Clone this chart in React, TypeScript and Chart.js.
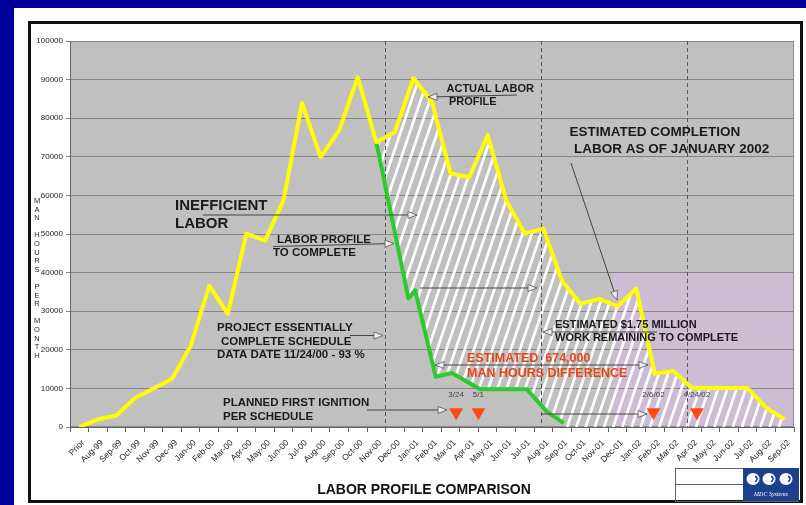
import React, { useEffect, useRef } from "react";
import { Chart, registerables } from "chart.js";
Chart.register(...registerables);

// ---------- DATA ----------
const months = [
  "Prior", "Aug-99", "Sep-99", "Oct-99", "Nov-99", "Dec-99", "Jan-00", "Feb-00", "Mar-00", "Apr-00",
  "May-00", "Jun-00", "Jul-00", "Aug-00", "Sep-00", "Oct-00", "Nov-00", "Dec-00", "Jan-01", "Feb-01",
  "Mar-01", "Apr-01", "May-01", "Jun-01", "Jul-01", "Aug-01", "Sep-01", "Oct-01", "Nov-01", "Dec-01",
  "Jan-02", "Feb-02", "Mar-02", "Apr-02", "May-02", "Jun-02", "Jul-02", "Aug-02", "Sep-02",
];
const actualLabor = [
  0, 2000, 3000, 7500, 10000, 12500, 21000, 36600, 29300, 50100,
  48300, 58700, 83900, 69900, 76900, 90600, 73800, 76400, 90400, 84200,
  65700, 64700, 75600, 58700, 50100, 51400, 37900, 31900, 33200, 31300,
  35900, 13800, 14500, 10100, 10100, 10100, 10100, 5000, 2000,
];
// planned labor profile to complete (x = month index, fractional where it falls between months)
const planX = [16, 17.73, 18.09, 19.2, 20.07, 21.6, 24.1, 25.2, 26.1];
const planY = [73800, 33300, 35400, 13000, 14000, 9800, 9800, 3900, 1000];
const hatchStart = 16; // Nov-00, where actual and plan diverge
// milestones
const milestoneX = [20.3, 21.5, 30.93, 33.27];
const milestoneY = [3800, 3800, 3800, 3800];
const milestoneLabels = ["3/24", "5/1", "2/6/02", "4/24/02"];
// dashed date markers (month index)
const markerX = [16.48, 24.88, 32.73];
// estimated completion zone
const zoneStartX = 28.74;
const zoneTop = 40000;
const yTicksMax = 100000;
const yStep = 10000;

// ---------- helpers ----------
const SANS = '"Liberation Sans", Arial, Helvetica, sans-serif';

function arrowHead(ctx: CanvasRenderingContext2D, x1: number, y1: number, x2: number, y2: number) {
  const ang = Math.atan2(y2 - y1, x2 - x1);
  const L = 9, W = 3.5;
  const bx = x2 - L * Math.cos(ang), by = y2 - L * Math.sin(ang);
  const nx = -Math.sin(ang), ny = Math.cos(ang);
  ctx.beginPath();
  ctx.moveTo(x2, y2);
  ctx.lineTo(bx + nx * W, by + ny * W);
  ctx.lineTo(bx - nx * W, by - ny * W);
  ctx.closePath();
  ctx.fillStyle = "#eeeeee";
  ctx.fill();
  ctx.strokeStyle = "#555";
  ctx.lineWidth = 0.8;
  ctx.stroke();
}
function arrow(ctx: CanvasRenderingContext2D, x1: number, y1: number, x2: number, y2: number, both = false) {
  ctx.beginPath();
  ctx.moveTo(x1, y1);
  ctx.lineTo(x2, y2);
  ctx.strokeStyle = "#444";
  ctx.lineWidth = 1;
  ctx.stroke();
  arrowHead(ctx, x1, y1, x2, y2);
  if (both) arrowHead(ctx, x2, y2, x1, y1);
}
function text(ctx: CanvasRenderingContext2D, s: string, x: number, y: number, font: string, color = "#1a1a1a", align: CanvasTextAlign = "left") {
  ctx.font = font;
  ctx.fillStyle = color;
  ctx.textAlign = align;
  ctx.textBaseline = "middle";
  ctx.fillText(s, x, y);
}

const decorPlugin = {
  id: "decor",
  beforeDraw(chart: any) {
    const { ctx, chartArea: a, scales } = chart;
    ctx.save();
    ctx.fillStyle = "#c0c0c0";
    ctx.fillRect(a.left, a.top, a.right - a.left, a.bottom - a.top);
    const px = scales.xl.getPixelForValue(zoneStartX);
    const py = scales.y.getPixelForValue(zoneTop);
    ctx.fillStyle = "#cdbcd4";
    ctx.fillRect(px, py, a.right - px, a.bottom - py);
    ctx.strokeStyle = "#8a8a8a";
    ctx.lineWidth = 1;
    ctx.strokeRect(a.left + 0.5, a.top + 0.5, a.right - a.left - 1, a.bottom - a.top - 1);
    ctx.restore();
  },
  beforeDatasetsDraw(chart: any) {
    const { ctx, chartArea: a, scales } = chart;
    const xl = scales.xl, y = scales.y;
    ctx.save();
    // hatched difference region
    ctx.beginPath();
    for (let i = hatchStart; i < actualLabor.length; i++) {
      const X = xl.getPixelForValue(i), Y = y.getPixelForValue(actualLabor[i]);
      if (i === hatchStart) ctx.moveTo(X, Y); else ctx.lineTo(X, Y);
    }
    ctx.lineTo(xl.getPixelForValue(actualLabor.length - 1), y.getPixelForValue(0));
    ctx.lineTo(xl.getPixelForValue(planX[planX.length - 1]), y.getPixelForValue(0));
    for (let i = planX.length - 1; i >= 0; i--) {
      ctx.lineTo(xl.getPixelForValue(planX[i]), y.getPixelForValue(planY[i]));
    }
    ctx.closePath();
    ctx.clip();
    ctx.strokeStyle = "#ffffff";
    ctx.lineWidth = 2.7;
    const H = a.bottom - a.top;
    const slope = 0.34;
    for (let x = a.left - H; x < a.right + 20; x += 9.2) {
      ctx.beginPath();
      ctx.moveTo(x, a.bottom);
      ctx.lineTo(x + H * slope, a.top);
      ctx.stroke();
    }
    ctx.restore();
    // dashed markers
    ctx.save();
    ctx.strokeStyle = "#555";
    ctx.lineWidth = 1;
    ctx.setLineDash([4, 3]);
    markerX.forEach((m) => {
      const X = Math.round(xl.getPixelForValue(m)) + 0.5;
      ctx.beginPath();
      ctx.moveTo(X, a.top);
      ctx.lineTo(X, a.bottom);
      ctx.stroke();
    });
    ctx.restore();
  },
  afterDraw(chart: any) {
    const { ctx, scales } = chart;
    const xl = scales.xl;
    ctx.save();
    // y axis title: stacked letters
    const title = "MAN HOURS PER MONTH";
    let ly = 201;
    for (const ch of title) {
      if (ch !== " ") text(ctx, ch, 37, ly, `7.5px ${SANS}`, "#222", "center");
      ly += 8.6;
    }
    // annotations
    const B = (s: number) => `bold ${s}px ${SANS}`;
    text(ctx, "INEFFICIENT", 175, 206, B(15));
    text(ctx, "LABOR", 175, 224, B(15));
    arrow(ctx, 203, 215, 417, 215);

    text(ctx, "LABOR PROFILE", 277, 240, B(11.5));
    text(ctx, "TO COMPLETE", 273, 253, B(11.5));
    arrow(ctx, 273, 246.5, 394, 243.5);

    text(ctx, "PROJECT ESSENTIALLY", 217, 328, B(11.5));
    text(ctx, "COMPLETE SCHEDULE", 221, 341.5, B(11.5));
    text(ctx, "DATA DATE 11/24/00 - 93 %", 217, 355, B(11.5));
    arrow(ctx, 350, 335.5, 383, 335.5);

    text(ctx, "PLANNED FIRST IGNITION", 223, 403, B(11.5));
    text(ctx, "PER SCHEDULE", 223, 416.5, B(11.5));
    arrow(ctx, 367, 410, 447, 410);

    text(ctx, "ACTUAL LABOR", 446.5, 88.5, B(11));
    text(ctx, "PROFILE", 449, 101.5, B(11));
    arrow(ctx, 517, 95, 428, 97);

    text(ctx, "ESTIMATED COMPLETION", 569.5, 132.5, B(13.5));
    text(ctx, "LABOR AS OF JANUARY 2002", 574, 149, B(13.5));
    arrow(ctx, 571, 163, 617, 300);

    arrow(ctx, 420, 288, 537, 288);

    text(ctx, "ESTIMATED $1.75 MILLION", 555, 325, B(11));
    text(ctx, "WORK REMAINING TO COMPLETE", 555, 338, B(11));
    arrow(ctx, 657, 332, 543, 332);

    text(ctx, "ESTIMATED  674,000", 467, 358.5, B(12.5), "#e8441a");
    text(ctx, "MAN HOURS DIFFERENCE", 467, 373.5, B(12.5), "#e8441a");
    arrow(ctx, 435, 365, 648, 365, true);

    arrow(ctx, 541, 414, 647, 414);

    milestoneX.forEach((m, i) => {
      text(ctx, milestoneLabels[i], xl.getPixelForValue(m), 395, `8px ${SANS}`, "#444", "center");
    });

    // chart title
    text(ctx, "LABOR PROFILE COMPARISON", 424, 490, B(14), "#111", "center");

    // title block / logo
    ctx.strokeStyle = "#666";
    ctx.lineWidth = 1;
    ctx.strokeRect(675.5, 468.5, 123, 33);
    ctx.beginPath();
    ctx.moveTo(675.5, 484.5); ctx.lineTo(743.5, 484.5);
    ctx.stroke();
    ctx.fillStyle = "#1e3e8e";
    ctx.fillRect(743, 468, 56, 33);
    ctx.fillStyle = "#ffffff";
    [[753, 479], [769, 479], [786, 479]].forEach(([cx, cy]) => {
      ctx.beginPath();
      ctx.ellipse(cx, cy, 6.5, 6, 0, 0, Math.PI * 2);
      ctx.fill();
    });
    ctx.strokeStyle = "#1e3e8e";
    ctx.lineWidth = 1.5;
    [[753, 479], [769, 479], [786, 479]].forEach(([cx, cy]) => {
      ctx.beginPath();
      ctx.arc(cx + 1, cy, 3, -1.2, 1.2);
      ctx.stroke();
    });
    text(ctx, "MDC Systems", 771, 494.5, `italic 6px "Liberation Serif", serif`, "#ffffff", "center");
    ctx.restore();
  },
};

export default function App() {
  const ref = useRef<HTMLCanvasElement | null>(null);
  useEffect(() => {
    if (!ref.current) return;
    const chart = new Chart(ref.current, {
      type: "line",
      data: {
        labels: months,
        datasets: [
          {
            label: "Actual Labor Profile",
            data: actualLabor,
            xAxisID: "x",
            borderColor: "#ffff00",
            borderWidth: 4,
            pointRadius: 0,
            tension: 0,
            borderJoinStyle: "round",
            fill: false,
          },
          {
            label: "Labor Profile to Complete",
            data: planX.map((x, i) => ({ x, y: planY[i] })),
            xAxisID: "xl",
            borderColor: "#2ccb2c",
            borderWidth: 4,
            pointRadius: 0,
            tension: 0,
            borderJoinStyle: "round",
            fill: false,
          },
          {
            type: "scatter",
            label: "Milestones",
            data: milestoneX.map((x, i) => ({ x, y: milestoneY[i] })),
            xAxisID: "xl",
            pointStyle: "triangle",
            rotation: 180,
            pointRadius: 8,
            backgroundColor: "#ff4a14",
            borderWidth: 0,
          } as any,
        ],
      },
      options: {
        responsive: false,
        animation: false,
        devicePixelRatio: 1,
        layout: { padding: { left: 0, top: 41, right: 12, bottom: 0 } },
        plugins: { legend: { display: false }, tooltip: { enabled: false }, title: { display: false } },
        events: [],
        scales: {
          x: {
            type: "category",
            offset: true,
            grid: { offset: true, drawOnChartArea: false, drawTicks: true, tickLength: 5, color: "#666" },
            border: { color: "#666" },
            ticks: {
              autoSkip: false,
              minRotation: 45,
              maxRotation: 45,
              padding: 6,
              labelOffset: 4,
              color: "#222",
              font: { family: SANS, size: 8.5 },
            },
            afterFit: (s: any) => { s.height = 78; },
          },
          xl: {
            type: "linear",
            display: false,
            min: -0.5,
            max: 38.5,
          },
          y: {
            min: 0,
            max: yTicksMax,
            ticks: {
              stepSize: yStep,
              color: "#222",
              padding: 3,
              font: { family: SANS, size: 8 },
              callback: (v: any) => String(v),
            },
            grid: { color: "#858585", tickLength: 4 },
            border: { color: "#666" },
            afterFit: (s: any) => { s.width = 70; },
          },
        },
      } as any,
      plugins: [decorPlugin],
    });
    return () => chart.destroy();
  }, []);

  return (
    <div style={{ position: "fixed", left: 0, top: 0, width: 806, height: 505, background: "#00009c", overflow: "hidden" }}>
      <div style={{ position: "absolute", left: 14, top: 8, right: 0, bottom: 0, background: "#ffffff" }} />
      <div style={{ position: "absolute", left: 28, top: 21, width: 775, height: 482, border: "3px solid #111", boxSizing: "border-box" }} />
      <canvas ref={ref} width={806} height={505} style={{ position: "absolute", left: 0, top: 0, width: 806, height: 505 }} />
    </div>
  );
}
